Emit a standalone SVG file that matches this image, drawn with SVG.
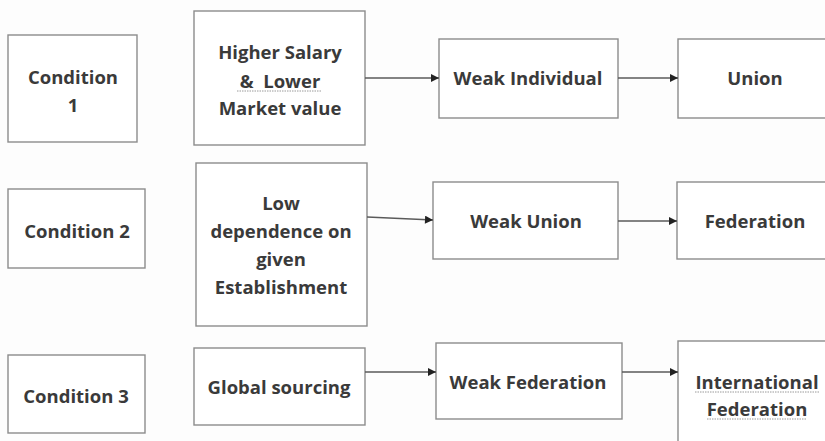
<svg xmlns="http://www.w3.org/2000/svg" width="825" height="441" viewBox="0 0 825 441">
  <style>
    .box { fill: #ffffff; stroke: #8c8c8c; stroke-width: 1.4; }
    .lbl { font-family: "Open Sans", "Liberation Sans", sans-serif; font-weight: bold; font-size: 18.5px; fill: #3a3a3a; text-anchor: middle; }
    .edge { stroke: #5a5a5a; stroke-width: 1.3; fill: none; marker-end: url(#arrow); }
    .squig { stroke: #9a9a9a; stroke-width: 1; stroke-dasharray: 1.5 1; fill: none; }
  </style>
  <defs>
    <marker id="arrow" viewBox="0 0 10 10" refX="10" refY="5" markerWidth="10" markerHeight="8" markerUnits="userSpaceOnUse" orient="auto">
      <path d="M0,0 L10,5 L0,10 Z" fill="#222222"/>
    </marker>
  </defs>
  <rect width="825" height="441" fill="#fdfdfd"/>

  <!-- row 1 -->
  <g id="condition1">
    <rect class="box" x="8" y="35" width="129" height="107"/>
    <text class="lbl" x="73" y="84">Condition</text>
    <text class="lbl" x="73" y="112">1</text>
  </g>
  <g id="salary">
    <rect class="box" x="194" y="11" width="171" height="134"/>
    <text class="lbl" x="280" y="59">Higher Salary</text>
    <text class="lbl" x="280" y="88">&amp;&#160; Lower</text>
    <line class="squig" x1="237" y1="91" x2="322" y2="91"/>
    <text class="lbl" x="280" y="115">Market value</text>
  </g>
  <g id="weak-individual">
    <rect class="box" x="439" y="39" width="179" height="79"/>
    <text class="lbl" x="528" y="85">Weak Individual</text>
  </g>
  <g id="union">
    <rect class="box" x="678" y="39" width="160" height="79"/>
    <text class="lbl" x="755" y="85">Union</text>
  </g>

  <!-- row 2 -->
  <g id="condition2">
    <rect class="box" x="8" y="189" width="137" height="79"/>
    <text class="lbl" x="77" y="238">Condition 2</text>
  </g>
  <g id="dependence">
    <rect class="box" x="196" y="163" width="171" height="163"/>
    <text class="lbl" x="281" y="210">Low</text>
    <text class="lbl" x="281" y="238">dependence on</text>
    <text class="lbl" x="281" y="266">given</text>
    <text class="lbl" x="281" y="294">Establishment</text>
  </g>
  <g id="weak-union">
    <rect class="box" x="433" y="182" width="185" height="77"/>
    <text class="lbl" x="526" y="228">Weak Union</text>
  </g>
  <g id="federation">
    <rect class="box" x="677" y="182" width="160" height="77"/>
    <text class="lbl" x="755" y="228">Federation</text>
  </g>

  <!-- row 3 -->
  <g id="condition3">
    <rect class="box" x="8" y="355" width="137" height="78"/>
    <text class="lbl" x="76" y="403">Condition 3</text>
  </g>
  <g id="global-sourcing">
    <rect class="box" x="194" y="348" width="171" height="77"/>
    <text class="lbl" x="279" y="394">Global sourcing</text>
  </g>
  <g id="weak-federation">
    <rect class="box" x="436" y="343" width="186" height="76"/>
    <text class="lbl" x="528" y="389">Weak Federation</text>
  </g>
  <g id="international-federation">
    <rect class="box" x="678" y="341" width="160" height="110"/>
    <text class="lbl" x="757" y="389">International</text>
    <line class="squig" x1="695" y1="392" x2="819" y2="392"/>
    <text class="lbl" x="757" y="416">Federation</text>
    <line class="squig" x1="707" y1="419" x2="807" y2="419"/>
  </g>

  <g id="connectors">
    <line class="edge" x1="365" y1="78" x2="439" y2="78"/>
    <line class="edge" x1="618" y1="78" x2="678" y2="78"/>
    <line class="edge" x1="367" y1="217" x2="433" y2="220"/>
    <line class="edge" x1="618" y1="221" x2="677" y2="221"/>
    <line class="edge" x1="365" y1="372" x2="436" y2="372"/>
    <line class="edge" x1="622" y1="372" x2="678" y2="372"/>
  </g>
</svg>
